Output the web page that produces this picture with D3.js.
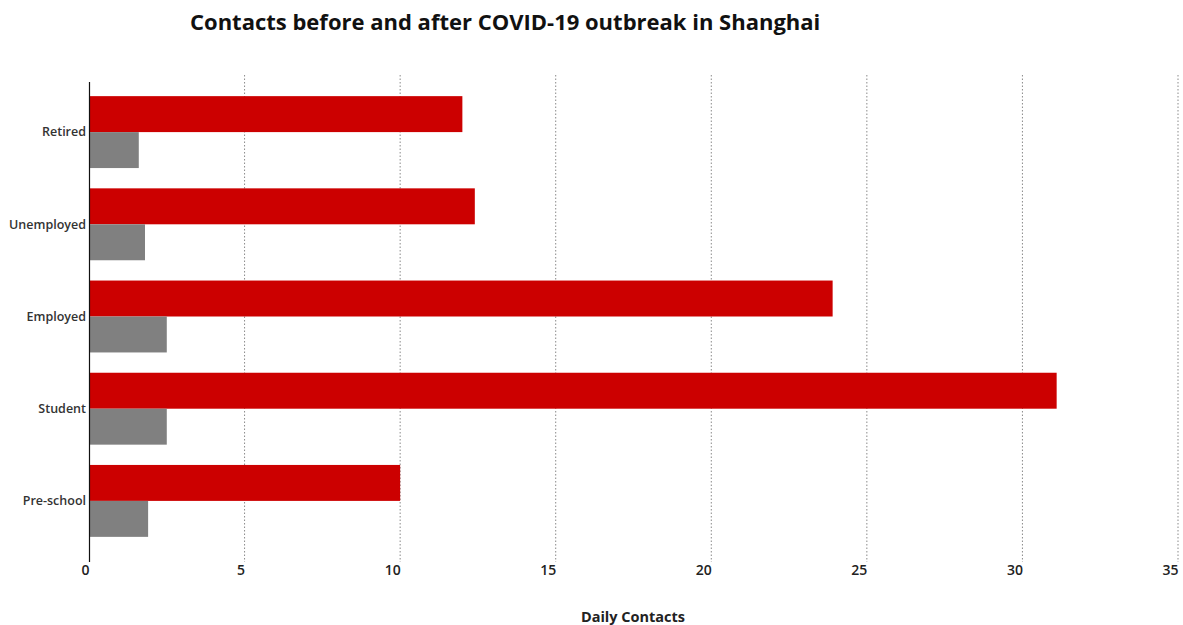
<!DOCTYPE html>
<html>
<head>
<meta charset="utf-8">
<script src="https://cdn.jsdelivr.net/npm/d3@7"></script>
<style>
    body { margin: 0; background: #fff; }
    svg { display: block; }
</style>
</head>
<body>
<svg width="1183" height="625"></svg>
<script>
var Categories = ["Retired", "Unemployed", "Employed", "Student", "Pre-school"];
var BeforeValues = [12.0, 12.4, 23.9, 31.1, 10.0];
var AfterValues = [1.6, 1.8, 2.5, 2.5, 1.9];
var TickValues = [0, 5, 10, 15, 20, 25, 30, 35];

var Font = "'Open Sans', 'DejaVu Sans', sans-serif";

function LoadScene() {
    var svg = d3.select("svg");

    var xScale = d3.scaleLinear().domain([0, 35]).range([89, 1178]);
    var yScale = d3.scaleBand().domain(Categories).range([86, 547])
                   .paddingInner(0.22).paddingOuter(0.11);
    var half = yScale.bandwidth() / 2;

    // Dotted grid lines
    svg.append("g").selectAll("line").data(TickValues.slice(1)).enter()
       .append("line")
       .attr("x1", function(d) { return xScale(d); })
       .attr("x2", function(d) { return xScale(d); })
       .attr("y1", 75)
       .attr("y2", 562)
       .attr("stroke", "#8a8a8a")
       .attr("stroke-width", 1)
       .attr("stroke-dasharray", "1.5,2");

    // Before bars (red)
    svg.append("g").selectAll("rect").data(Categories).enter()
       .append("rect")
       .attr("x", xScale(0))
       .attr("y", function(d) { return yScale(d); })
       .attr("width", function(d, i) { return xScale(BeforeValues[i]) - xScale(0); })
       .attr("height", half)
       .attr("fill", "#cc0000");

    // After bars (gray)
    svg.append("g").selectAll("rect").data(Categories).enter()
       .append("rect")
       .attr("x", xScale(0))
       .attr("y", function(d) { return yScale(d) + half; })
       .attr("width", function(d, i) { return xScale(AfterValues[i]) - xScale(0); })
       .attr("height", half)
       .attr("fill", "#808080");

    // Y axis line
    svg.append("line")
       .attr("x1", xScale(0) + 0.5).attr("x2", xScale(0) + 0.5)
       .attr("y1", 82).attr("y2", 562)
       .attr("stroke", "#111").attr("stroke-width", 1.2);

    // Category labels
    svg.append("g").selectAll("text").data(Categories).enter()
       .append("text")
       .attr("x", xScale(0) - 3)
       .attr("y", function(d) { return yScale(d) + half; })
       .attr("dy", "0.35em")
       .attr("text-anchor", "end")
       .style("font-family", Font)
       .style("font-size", "12.5px")
       .style("font-weight", 600)
       .style("fill", "#333")
       .text(function(d) { return d; });

    // X axis (labels only, right-aligned to their tick)
    var xAxis = svg.append("g")
       .attr("transform", "translate(0,562)")
       .call(d3.axisBottom(xScale).tickValues(TickValues).tickSize(0).tickPadding(3));
    xAxis.select(".domain").remove();
    xAxis.selectAll("text")
       .attr("text-anchor", "end")
       .style("font-family", Font)
       .style("font-size", "14px")
       .style("font-weight", 600)
       .style("fill", "#222");

    // Axis title
    svg.append("text")
       .attr("x", 633)
       .attr("y", 622)
       .attr("text-anchor", "middle")
       .style("font-family", Font)
       .style("font-size", "14.5px")
       .style("font-weight", 700)
       .style("fill", "#222")
       .text("Daily Contacts");

    // Chart title
    svg.append("text")
       .attr("x", 190)
       .attr("y", 30)
       .style("font-family", Font)
       .style("font-size", "22px")
       .style("font-weight", 700)
       .style("fill", "#111")
       .text("Contacts before and after COVID-19 outbreak in Shanghai");
}

LoadScene();
</script>
</body>
</html>
